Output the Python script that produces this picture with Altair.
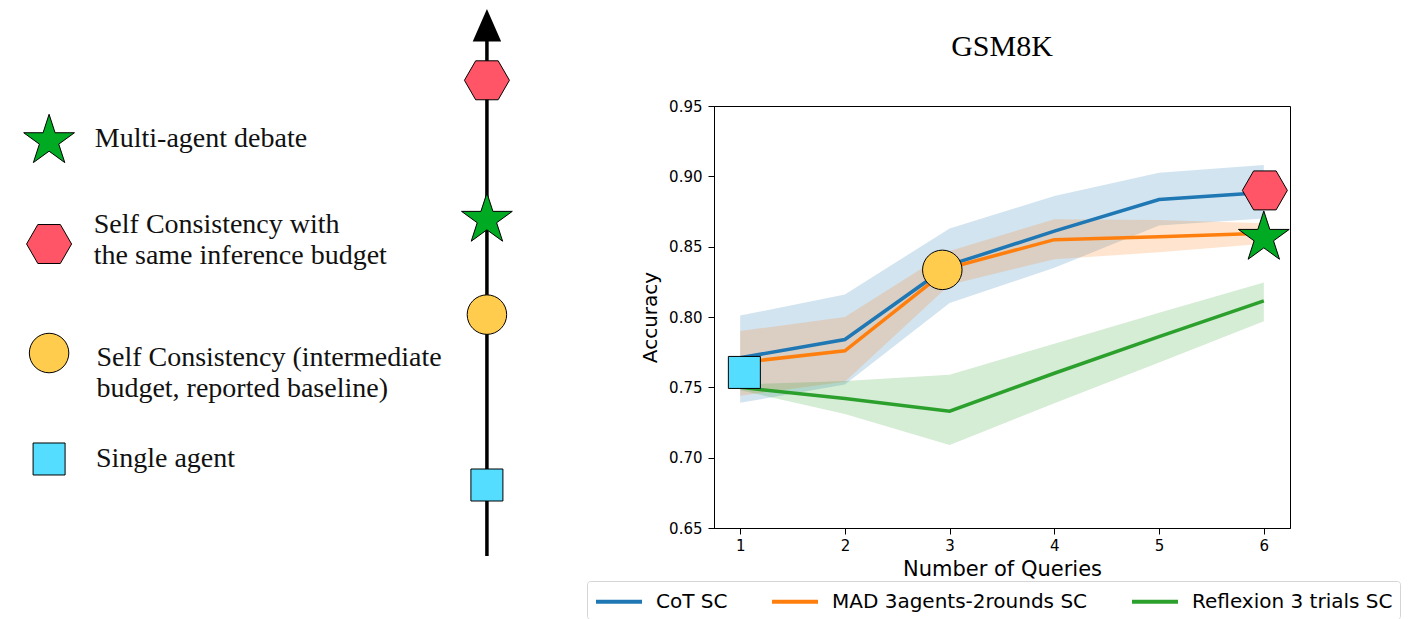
import altair as alt
import pandas as pd

# ---------------- data ----------------
queries = [1, 2, 3, 4, 5, 6]
series_names = ["CoT SC", "MAD 3agents-2rounds SC", "Reflexion 3 trials SC"]
series_colors = ["#1f77b4", "#ff7f0e", "#2ca02c"]

cot_mean = [0.771, 0.784, 0.837, 0.861, 0.8835, 0.8885]
cot_low = [0.739, 0.752, 0.810, 0.835, 0.865, 0.870]
cot_high = [0.801, 0.816, 0.863, 0.886, 0.9025, 0.908]

mad_mean = [0.7676, 0.776, 0.835, 0.855, 0.857, 0.8595]
mad_low = [0.744, 0.754, 0.823, 0.841, 0.846, 0.852]
mad_high = [0.790, 0.800, 0.847, 0.8695, 0.869, 0.8666]

ref_mean = [0.750, 0.742, 0.733, 0.760, 0.786, 0.8115]
ref_low = [0.748, 0.731, 0.709, 0.7386, 0.7676, 0.797]
ref_high = [0.752, 0.7545, 0.759, 0.781, 0.803, 0.8246]

y_ticks = [0.65, 0.70, 0.75, 0.80, 0.85, 0.90, 0.95]

# highlighted methods placed on the chart
methods = ["single", "sc_mid", "sc_same", "mad"]
method_query = [1.04, 2.93, 6.01, 6.0]
method_accuracy = [0.7606, 0.8335, 0.890, 0.8564]

# schematic panel on the left (budget axis; 0 = bottom of panel, 100 = level of the
# chart's top edge, values above 100 rise above it)
legend_methods = ["mad", "sc_same", "sc_mid", "single"]
legend_labels = [
    "Multi-agent debate",
    "Self Consistency with\nthe same inference budget",
    "Self Consistency (intermediate\nbudget, reported baseline)",
    "Single agent",
]
legend_icon_level = [92.31, 69.67, 45.71, 22.42]
legend_text_level = [91.05, 72.09, 42.86, 20.55]
legend_text_col = [16.7, 16.5, 17.0, 16.9]
legend_icon_col = [7.9, 7.9, 7.9, 7.9]

budget_methods = ["single", "sc_mid", "mad", "sc_same"]
budget_level = [16.70, 54.15, 75.03, 105.65]
budget_col = 92.1
budget_axis_start = 1.10
budget_axis_end = 115.2
budget_arrow_level = 117.75

# ---------------- styles ----------------
STAR = ("M0,-1L-0.2245,-0.309L-0.9511,-0.309L-0.3633,0.118L-0.5878,0.809"
        "L0,0.382L0.5878,0.809L0.3633,0.118L0.9511,-0.309L0.2245,-0.309Z")
HEX = "M1,0L0.5,0.866L-0.5,0.866L-1,0L-0.5,-0.866L0.5,-0.866Z"
ARROW = "M0,-1L0.875,1L-0.875,1Z"
LEGEND_LINE = "M-1,0L3,0"

STYLE = {
    "mad": dict(shape=STAR, fill="#00aa22", size=2850),
    "sc_same": dict(shape=HEX, fill="#ff5566", size=2025),
    "sc_mid": dict(shape="circle", fill="#ffcc4d", size=1560),
    "single": dict(shape="square", fill="#55ddff", size=1024),
}

SANS = "DejaVu Sans"
SERIF = "Liberation Serif"

# ---------------- tables ----------------
rows = []
for name, m, lo, hi in zip(series_names,
                           [cot_mean, mad_mean, ref_mean],
                           [cot_low, mad_low, ref_low],
                           [cot_high, mad_high, ref_high]):
    for q, a, b, c in zip(queries, m, lo, hi):
        rows.append({"series": name, "q": q, "mean": a, "lo": b, "hi": c})
curves = pd.DataFrame(rows)

chart_markers = pd.DataFrame({"method": methods, "q": method_query, "acc": method_accuracy})

legend_df = pd.DataFrame({
    "method": legend_methods, "label": legend_labels,
    "icon_y": legend_icon_level, "text_y": legend_text_level,
    "icon_x": legend_icon_col, "text_x": legend_text_col,
})
budget_df = pd.DataFrame({"method": budget_methods, "lvl": budget_level,
                          "col": [budget_col] * len(budget_methods)})
axis_df = pd.DataFrame({"col": [budget_col], "lo": [budget_axis_start],
                        "hi": [budget_axis_end], "tip": [budget_arrow_level]})

# ---------------- left schematic panel ----------------
LW, LH = 520, 455
lx = alt.Scale(domain=[0, 100], nice=False, zero=False)
ly = alt.Scale(domain=[0, 100], nice=False, zero=False)


def LX(f):
    return alt.X(f"{f}:Q", scale=lx, axis=None)


def LY(f):
    return alt.Y(f"{f}:Q", scale=ly, axis=None)


def marker_layers(df, xf, yf, X, Y):
    out = []
    for key in ["single", "sc_mid", "mad", "sc_same"]:
        st = STYLE[key]
        out.append(
            alt.Chart(df).transform_filter(alt.datum.method == key)
            .mark_point(filled=True, opacity=1, stroke="black", strokeWidth=1,
                        shape=st["shape"], fill=st["fill"], size=st["size"])
            .encode(x=X(xf), y=Y(yf))
        )
    return out


axis_rule = alt.Chart(axis_df).mark_rule(color="black", strokeWidth=3.5).encode(
    x=LX("col"), y=LY("lo"), y2="hi:Q")
arrow_head = alt.Chart(axis_df).mark_point(
    filled=True, opacity=1, shape=ARROW, size=1056, fill="black", strokeWidth=0
).encode(x=LX("col"), y=LY("tip"))
legend_text = alt.Chart(legend_df).mark_text(
    align="left", baseline="alphabetic", font=SERIF, fontSize=28,
    lineBreak="\n", lineHeight=30.6, color="#111111"
).encode(x=LX("text_x"), y=LY("text_y"), text="label:N")

left = alt.layer(
    axis_rule, arrow_head,
    *marker_layers(budget_df, "col", "lvl", LX, LY),
    *marker_layers(legend_df, "icon_x", "icon_y", LX, LY),
    legend_text,
).properties(width=LW, height=LH, view=alt.ViewBackground(stroke=None))

# ---------------- right chart ----------------
RW, RH = 576, 422
xs = alt.Scale(domain=[0.75, 6.25], nice=False, zero=False)
ys = alt.Scale(domain=[0.65, 0.95], nice=False, zero=False)

x_axis = alt.Axis(values=queries, format="d", grid=False, title="Number of Queries",
                  labelFont=SANS, labelFontSize=15, labelColor="black", labelPadding=4,
                  tickColor="black", tickSize=6, domainColor="black",
                  titleFont=SANS, titleFontSize=21, titleFontWeight="normal",
                  titleColor="black", titlePadding=5)
y_axis = alt.Axis(values=y_ticks, format=".2f", grid=False, title="Accuracy",
                  labelFont=SANS, labelFontSize=15, labelColor="black", labelPadding=6,
                  tickColor="black", tickSize=6, domainColor="black",
                  titleFont=SANS, titleFontSize=20, titleFontWeight="normal",
                  titleColor="black", titlePadding=8)


def RX(f):
    return alt.X(f"{f}:Q", scale=xs, axis=x_axis)


def RY(f):
    return alt.Y(f"{f}:Q", scale=ys, axis=y_axis)


bands = [
    alt.Chart(curves).transform_filter(alt.datum.series == name)
    .mark_area(opacity=0.2, color=col)
    .encode(x=RX("q"), y=RY("lo"), y2="hi:Q")
    for name, col in zip(series_names, series_colors)
]
lines = alt.Chart(curves).mark_line(strokeWidth=3.5).encode(
    x=RX("q"), y=RY("mean"),
    color=alt.Color(
        "series:N",
        scale=alt.Scale(domain=series_names, range=series_colors),
        legend=alt.Legend(
            title=None, orient="none", direction="horizontal",
            legendX=579, legendY=475,
            symbolType=LEGEND_LINE, symbolSize=529, symbolStrokeWidth=4,
            labelFont=SANS, labelFontSize=20, labelColor="black", labelLimit=500,
            labelOffset=35, columnPadding=36, padding=7,
            strokeColor="#d5d5d5", cornerRadius=3, fillColor="white",
        ),
    ),
)

right = alt.layer(
    *bands, lines,
    *marker_layers(chart_markers, "q", "acc", RX, RY),
).properties(
    width=RW, height=RH,
    title=alt.Title("GSM8K", font=SERIF, fontSize=30, fontWeight="normal",
                    color="black", offset=37, frame="group", anchor="middle"),
    view=alt.ViewBackground(stroke="black", strokeWidth=1),
)

chart = alt.hconcat(left, right, spacing=112).properties(
    padding=0, background="white"
).configure_view(stroke=None)

chart.save("out.html", embed_options={"renderer": "svg", "actions": False})
